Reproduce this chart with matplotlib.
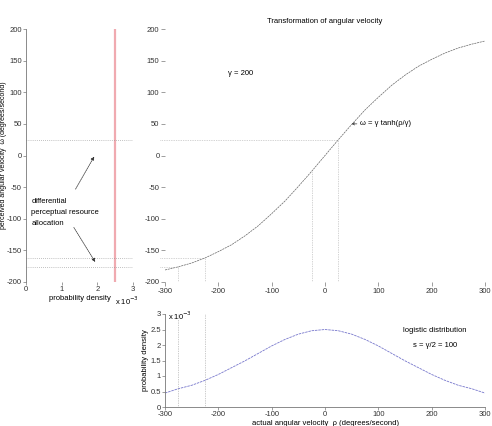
import matplotlib
matplotlib.use("Agg")
import matplotlib.pyplot as plt

# actual angular velocity rho (deg/s)
rho = [-300, -275, -250, -225, -200, -175, -150, -125, -100, -75, -50, -25, 0,
       25, 50, 75, 100, 125, 150, 175, 200, 225, 250, 275, 300]
# perceived angular velocity omega
omega = [-181, -176, -170, -162, -152, -141, -127, -111, -92, -72, -49, -25, 0,
         25, 49, 72, 92, 111, 127, 141, 152, 162, 170, 176, 181]
# logistic density (x 1e-3)
dens = [0.45, 0.59, 0.70, 0.86, 1.05, 1.27, 1.49, 1.73, 1.97, 2.18, 2.35, 2.46, 2.50,
        2.46, 2.35, 2.18, 1.97, 1.73, 1.49, 1.27, 1.05, 0.86, 0.70, 0.59, 0.45]

# marked points on the curve: (rho, omega)
marks_v = [(-275, -176), (-225, -162), (-25, -25), (25, 25)]
marks_h = [(25, 25), (-225, -162), (-275, -176)]
red_x = 2.5  # x 1e-3

fs = 5.5
tc = "#333333"
plt.rcParams['font.family'] = ['Liberation Sans', 'DejaVu Sans']
plt.rcParams['font.size'] = fs
plt.rcParams['axes.unicode_minus'] = False

W, H = 492, 426
fig = plt.figure(figsize=(W / 100, H / 100), dpi=100)

def box(x0, y0, x1, y1):
    return [x0 / W, 1 - y1 / H, (x1 - x0) / W, (y1 - y0) / H]

# left panel
axl = fig.add_axes(box(26, 29, 133, 282))
axl.axvline(red_x, color="#f0aab0", lw=1.6)
for r, w in marks_h:
    axl.axhline(w, color="#888888", lw=0.5, ls=(0, (1, 2)))
axl.set_xlim(0, 3)
axl.set_ylim(-200, 200)
axl.set_xticks([0, 1, 2, 3])
axl.set_yticks(range(-200, 201, 50))
axl.set_xlabel("probability density", fontsize=fs, labelpad=1)
axl.set_ylabel("perceived angular velocity  ω (degrees/second)", fontsize=5)
axl.yaxis.set_label_coords(-0.175, 0.5)
axl.text(2.5, -220, "x 10$^{-3}$", fontsize=fs, ha="left", va="top")
for s in ["top", "right", "bottom"]:
    axl.spines[s].set_visible(False)
axl.spines["left"].set_color("#777777")
axl.spines["left"].set_linewidth(0.6)
axl.tick_params(length=2, width=0.5, colors="#777777", labelcolor=tc, labelsize=fs, pad=1)
axl.text(0.15, -90, "differential\nperceptual resource\nallocation", fontsize=fs,
         va="center", ha="left", linespacing=1.75)
axl.annotate("", xy=(1.95, 2), xytext=(1.35, -57),
             arrowprops=dict(arrowstyle="-|>", lw=0.5, ls=(0, (2, 1)), color="#333333",
                             mutation_scale=5))
axl.annotate("", xy=(1.98, -172), xytext=(1.3, -110),
             arrowprops=dict(arrowstyle="-|>", lw=0.5, ls=(0, (2, 1)), color="#333333",
                             mutation_scale=5))

# main panel
axm = fig.add_axes(box(165, 29, 485, 282))
axm.plot(rho, omega, color="#666666", lw=0.5, ls=(0, (3, 1)))
for r, w in marks_v:
    axm.plot([r, r], [-200, w], color="#aaaaaa", lw=0.5, ls=(0, (1, 1.5)))
for r, w in marks_h:
    axm.plot([-310, r], [w, w], color="#aaaaaa", lw=0.5, ls=(0, (1, 1.5)), clip_on=False)
axm.set_xlim(-300, 300)
axm.set_ylim(-200, 200)
axm.set_xticks(range(-300, 301, 100))
axm.set_yticks(range(-200, 201, 50))
for s in axm.spines.values():
    s.set_visible(False)
axm.tick_params(direction="out", length=3, width=0.5, colors="#777777", labelcolor=tc,
                labelsize=fs, pad=1)
axm.set_title("Transformation of angular velocity", fontsize=fs, pad=4)
axm.text(-182, 130, "γ = 200", fontsize=fs, ha="left", va="center")
axm.annotate("ω = γ tanh(ρ/γ)", xy=(50, 50), xytext=(65, 50), fontsize=fs, va="center",
             arrowprops=dict(arrowstyle="->", lw=0.5, color="#333333", mutation_scale=4,
                             shrinkA=0, shrinkB=0))

# bottom panel
axb = fig.add_axes(box(165, 314, 485, 407))
axb.plot(rho, dens, color="#7777cc", lw=0.6, ls=(0, (3, 1)))
for r in [-275, -225]:
    axb.axvline(r, color="#999999", lw=0.5, ls=(0, (1, 1.5)))
axb.set_xlim(-300, 300)
axb.set_ylim(0, 3)
axb.set_xticks(range(-300, 301, 100))
axb.set_yticks([0, 0.5, 1, 1.5, 2, 2.5, 3])
axb.set_yticklabels(["0", "0.5", "1", "1.5", "2", "2.5", "3"])
for s in ["top", "right"]:
    axb.spines[s].set_visible(False)
for s in ["left", "bottom"]:
    axb.spines[s].set_color("#777777")
    axb.spines[s].set_linewidth(0.6)
axb.tick_params(length=2, width=0.5, colors="#777777", labelcolor=tc, labelsize=fs, pad=1)
axb.set_ylabel("probability density", fontsize=fs, labelpad=1)
axb.set_xlabel("actual angular velocity  ρ (degrees/second)", fontsize=fs, labelpad=1)
axb.text(-295, 2.95, "x 10$^{-3}$", fontsize=fs, ha="left", va="center")
axb.text(206, 2.48, "logistic distribution", fontsize=fs, ha="center", va="center")
axb.text(206, 1.97, "s = γ/2 = 100", fontsize=fs, ha="center", va="center")

fig.savefig("out.png", dpi=100, facecolor="white")
